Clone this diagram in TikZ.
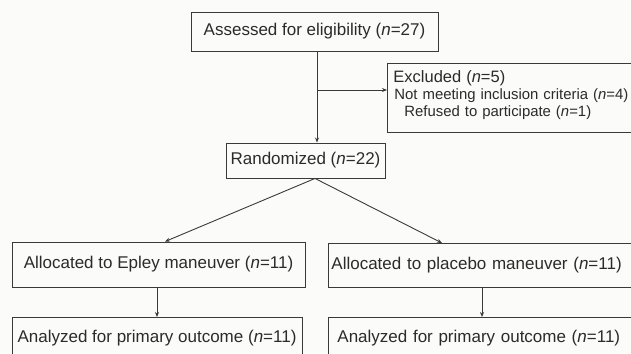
\documentclass[tikz,border=0pt]{standalone}
\usepackage{fontspec}
\setmainfont{Liberation Sans}
\usetikzlibrary{arrows.meta}
\definecolor{ln}{HTML}{3A3A3A}
\definecolor{tx}{HTML}{2B2B2B}
\definecolor{bg}{HTML}{FBFBF9}
\begin{document}
\begin{tikzpicture}[x=1pt,y=-1pt,
  box/.style={draw=ln, line width=0.9pt, text=tx, inner sep=0pt, font=\fontsize{17}{20}\selectfont},
  arr/.style={draw=ln, line width=0.9pt, -{Stealth[length=5pt,width=4pt]}},
]
\fill[bg] (0,0) rectangle (631,353);
\useasboundingbox (0,0) rectangle (631,353);
\clip (0,0) rectangle (631,353);

\node[box, minimum width=247pt, minimum height=39pt] (assess) at (314.5,31.5) {Assessed for eligibility (\textit{n}=27)};

\node[box, anchor=north west, minimum height=69pt, align=left, text width=246pt, inner xsep=6pt,
      font=\fontsize{14.9}{17}\selectfont] (excl) at (387,63)
  {{\fontsize{16.5}{17}\selectfont Excluded (\textit{n}=5)}\\
   \hspace*{1pt}Not meeting inclusion criteria (\textit{n}=4)\\
   \hspace*{11pt}Refused to participate (\textit{n}=1)\par\vspace*{5pt}};

\node[box, minimum width=159pt, minimum height=35pt] (rand) at (305.5,160.5) {Randomized (\textit{n}=22)};

\node[box, minimum width=293pt, minimum height=45pt] (epley) at (158.5,264.5) {Allocated to Epley maneuver (\textit{n}=11)};
\node[box, anchor=north west, text width=302pt, align=left, inner xsep=3pt, minimum height=44pt] (plac) at (328,243) {Allocated to placebo maneuver (\textit{n}=11)};

\node[box, anchor=north, minimum width=290pt, minimum height=42pt] (an1) at (157,317) {Analyzed for primary outcome (\textit{n}=11)};
\node[box, anchor=north west, text width=290pt, align=left, inner xsep=9pt, minimum height=42pt] (an2) at (328,317) {Analyzed for primary outcome (\textit{n}=11)};

\coordinate (cx) at (317,0);
\coordinate (br) at (317,90);
\coordinate (rs) at (315,0);
\coordinate (lt) at (165,0);
\coordinate (rt) at (442,0);
\coordinate (lx) at (157,0);
\coordinate (rx) at (482,0);

\draw[arr] (assess.south -| cx) -- (rand.north -| cx);
\draw[arr] (br) -- (br -| excl.west);
\draw[arr] (rand.south -| rs) -- (epley.north -| lt);
\draw[arr] (rand.south -| rs) -- (plac.north -| rt);
\draw[arr] (epley.south -| lx) -- (an1.north -| lx);
\draw[arr] (plac.south -| rx) -- (an2.north -| rx);
\end{tikzpicture}
\end{document}
